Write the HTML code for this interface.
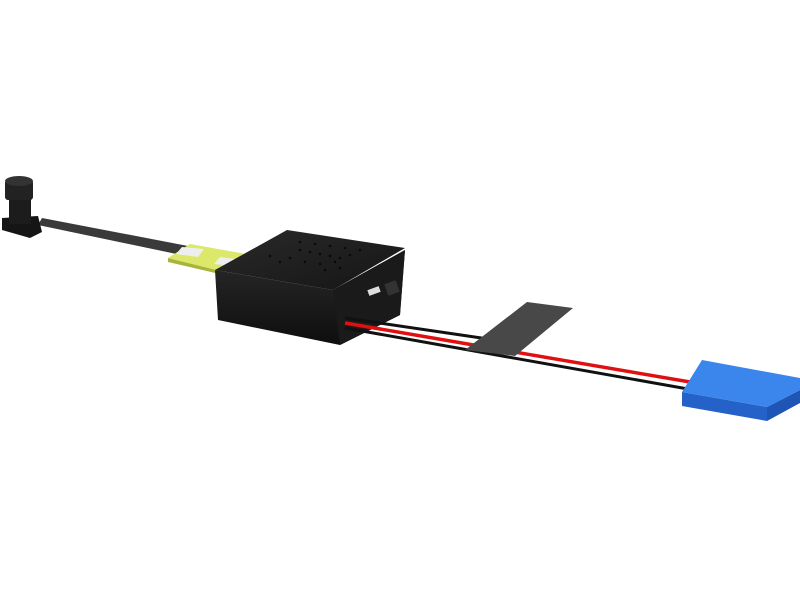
<!DOCTYPE html>
<html><head><style>html,body{margin:0;padding:0;background:#fff}svg{display:block}</style></head>
<body>
<svg width="800" height="600" viewBox="0 0 800 600" xmlns="http://www.w3.org/2000/svg">
<defs>
<linearGradient id="top" x1="0" y1="0" x2="1" y2="1"><stop offset="0" stop-color="#2a2a2a"/><stop offset="1" stop-color="#151515"/></linearGradient>
<linearGradient id="side" x1="0" y1="0" x2="0" y2="1"><stop offset="0" stop-color="#2b2b2b"/><stop offset="1" stop-color="#0e0e0e"/></linearGradient>
</defs>
<!-- ribbon to camera -->
<polygon points="38,225 42,218 188,246 186,256" fill="#3a3a3a"/>
<!-- camera -->
<polygon points="2,218 38,216 42,232 30,238 2,230" fill="#151515"/>
<rect x="9" y="198" width="22" height="26" fill="#1c1c1c"/>
<rect x="5" y="180" width="28" height="20" rx="3" fill="#222"/>
<ellipse cx="19" cy="181" rx="14" ry="5" fill="#333"/>
<!-- yellow pcb -->
<polygon points="168,258 190,244 246,254 224,272" fill="#dbe86a"/>
<polygon points="168,258 224,272 224,275 168,262" fill="#a9b43a"/>
<polygon points="176,254 182,247 204,249 198,257" fill="#eeeeee"/>
<polygon points="214,264 220,257 236,259 230,266" fill="#eeeeee"/>
<!-- box -->
<polygon points="215,270 218,320 340,345 400,315 405,250 333,290" fill="url(#side)"/>
<polygon points="333,290 405,250 400,315 340,345" fill="#1a1a1a"/>
<polygon points="215,270 287,230 405,248 333,290" fill="url(#top)"/>
<g fill="#0a0a0a">
<circle cx="300" cy="250" r="1.3"/><circle cx="310" cy="252" r="1.3"/><circle cx="320" cy="254" r="1.3"/><circle cx="330" cy="256" r="1.3"/><circle cx="340" cy="258" r="1.3"/>
<circle cx="290" cy="258" r="1.3"/><circle cx="305" cy="262" r="1.3"/><circle cx="320" cy="264" r="1.3"/><circle cx="335" cy="262" r="1.3"/><circle cx="350" cy="255" r="1.3"/>
<circle cx="300" cy="242" r="1.3"/><circle cx="315" cy="244" r="1.3"/><circle cx="330" cy="246" r="1.3"/><circle cx="345" cy="248" r="1.3"/><circle cx="360" cy="250" r="1.3"/>
<circle cx="325" cy="270" r="1.3"/><circle cx="340" cy="268" r="1.3"/><circle cx="280" cy="262" r="1.3"/><circle cx="270" cy="256" r="1.3"/>
</g>
<rect x="368" y="288" width="12" height="6" fill="#ddd" transform="rotate(-20 374 291)"/>
<rect x="386" y="282" width="12" height="12" fill="#333" transform="rotate(-20 392 288)"/>
<!-- wires -->
<line x1="345" y1="318" x2="495" y2="340" stroke="#111" stroke-width="3"/>
<line x1="345" y1="323" x2="690" y2="382" stroke="#e01010" stroke-width="3.5"/>
<line x1="345" y1="328" x2="688" y2="389" stroke="#111" stroke-width="3"/>
<!-- tape -->
<polygon points="527,302 573,308 515,356 465,350" fill="#484848"/>
<!-- battery -->
<polygon points="682,392 767,407 767,421 682,406" fill="#2461c8"/>
<polygon points="767,407 800,390 800,403 767,421" fill="#1f56b5"/>
<polygon points="682,392 702,360 800,378 800,390 767,407" fill="#3b86ec"/>
</svg>
</body></html>
